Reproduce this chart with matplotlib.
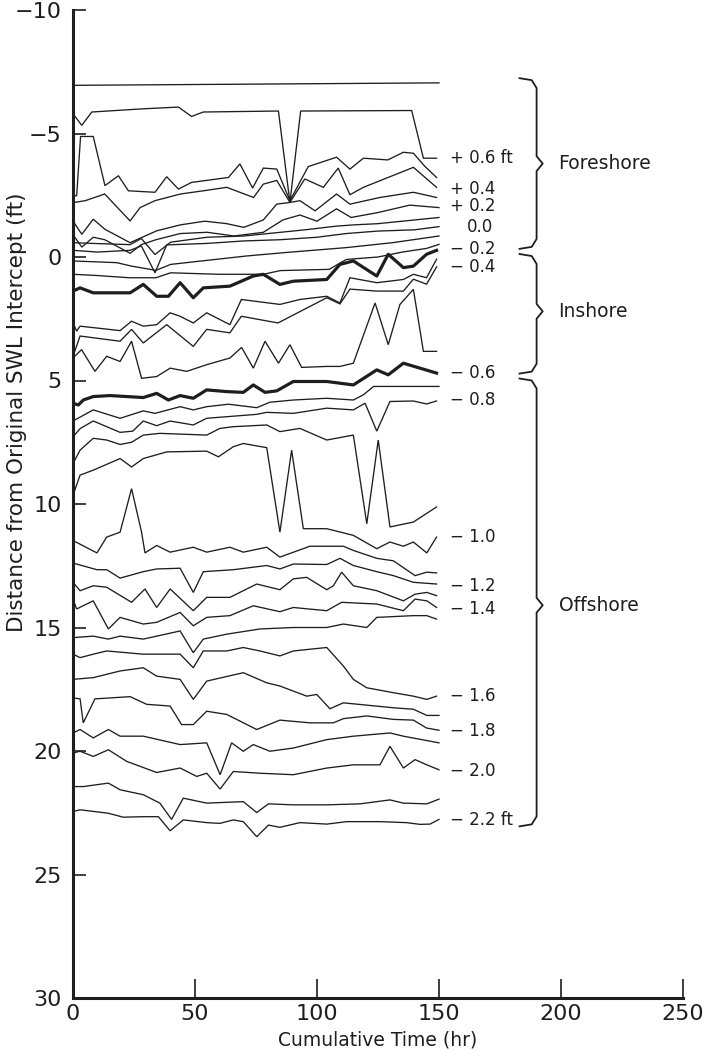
import matplotlib
matplotlib.use("Agg")
import matplotlib.pyplot as plt

# Profile traces: (cumulative time hr, distance ft)
# Foreshore
L1 = [(0, -6.95), (150, -7.05)]
L2 = [(0, -5.8), (3.6, -5.33), (7.7, -5.87), (28.8, -6.0), (43.2, -6.07), (48.6, -5.69),
      (53.4, -5.87), (84.2, -5.91), (88.9, -2.21), (93.3, -5.91), (138.8, -5.93),
      (143.6, -4.0), (149, -4.0)]
L3 = [(0, -2.48), (1.5, -2.48), (3.1, -4.88), (8.3, -4.88), (13.1, -2.89), (18.6, -3.29),
      (22.7, -2.68), (33.6, -2.62), (38.4, -3.25), (43.2, -2.75), (48.6, -3.02), (63.7, -3.22),
      (68.4, -3.77), (73.6, -2.79), (78, -3.6), (83.5, -3.56), (88.9, -2.28), (96.4, -3.66),
      (108, -4.04), (113.5, -3.56), (119, -4.0), (129, -3.93), (135.4, -4.24), (139.5, -4.2),
      (144.3, -3.66), (149, -3.22)]
L4 = [(0, -2.2), (5, -2.28), (13, -2.55), (23.4, -1.46), (27.5, -2.0), (33.6, -2.28),
      (44, -2.55), (53.4, -2.68), (63, -2.82), (74, -2.41), (78, -2.95), (83.5, -3.1),
      (88.9, -2.21), (95, -3.16), (102.6, -2.82), (108.7, -3.6), (113.5, -2.52), (119, -2.82),
      (139.5, -3.63), (149, -2.82)]
L5 = [(0, -1.46), (3.6, -0.92), (8.3, -1.53), (13.1, -1.12), (23.4, -0.58), (34.3, -1.06),
      (44, -1.3), (54, -1.45), (63, -1.35), (70, -1.2), (78, -1.5), (83.5, -2.14), (89, -2.21),
      (93, -2.28), (99.2, -1.87), (108, -2.55), (113.5, -2.14), (125.8, -2.41), (139.5, -2.62),
      (149, -2.41)]
L6 = [(0, -0.9), (3.6, -0.4), (8.3, -0.8), (13, -0.7), (23.4, -0.15), (28, -0.5), (34, -0.7),
      (44, -0.95), (55, -1.0), (66, -0.85), (78, -1.0), (86, -1.5), (93, -1.7), (100, -1.45),
      (108, -1.95), (114, -1.6), (125, -1.8), (138, -2.1), (150, -2.0)]
L7 = [(0, -0.58), (8, -0.55), (23.4, -0.5), (28, -0.75), (33.6, -0.1), (40, -0.6), (55, -0.8),
      (70, -0.85), (85, -1.0), (95, -1.1), (108, -1.25), (115, -1.3), (125, -1.35), (135, -1.45),
      (150, -1.6)]
L8 = [(0, -0.27), (10, -0.2), (23.4, -0.27), (28, -0.45), (33.6, 0.64), (38.4, -0.49),
      (55, -0.55), (70, -0.65), (85, -0.7), (100, -0.8), (112, -0.95), (125, -1.05), (140, -1.1),
      (150, -1.23)]
L9 = [(0, 0.16), (18, 0.23), (24, 0.37), (34, 0.54), (40, 0.3), (71, -0.04), (87, -0.18),
      (112, -0.38), (131, -0.58), (150, -0.85)]
L10 = [(0, 0.7), (10, 0.75), (23, 0.84), (34, 0.84), (40, 0.64), (60, 0.7), (78, 0.7),
       (85, 0.55), (105, 0.5), (112, 0.1), (125, 0.0), (135, -0.2), (145, -0.35), (150, -0.51)]

# Inshore
T1 = [(0, 1.38), (2.9, 1.25), (8.3, 1.45), (23.4, 1.45), (28.8, 1.11), (34.3, 1.59), (39.1, 1.59),
      (43.9, 1.04), (49.3, 1.65), (53.4, 1.25), (64.3, 1.18), (73.9, 0.77), (78, 0.7), (84.8, 1.11),
      (90.3, 0.98), (104, 0.91), (109.4, 0.3), (114.9, 0.16), (124.5, 0.77), (129.2, -0.11),
      (135.4, 0.43), (139.5, 0.37), (144.9, -0.11), (149, -0.27)]
E1 = [(0, 2.67), (1.5, 3.0), (2.9, 2.8), (19.3, 2.98), (24, 2.6), (28.8, 2.8), (34.3, 2.74),
      (39.8, 2.26), (43.9, 2.4), (49.3, 2.67), (54.8, 2.26), (64.3, 2.74), (69, 1.72), (84.8, 1.92),
      (93, 1.72), (104, 1.59), (109.4, 1.86), (113.5, 0.84), (124.5, 1.04), (135.4, 0.91),
      (139.5, 0.7), (144.9, 0.84), (149, 0.09)]
F1 = [(0, 4.02), (2.9, 3.2), (19.3, 3.41), (24, 2.93), (28.8, 3.48), (38.4, 2.74), (49.3, 3.62),
      (54.8, 2.93), (64.3, 3.07), (69, 2.4), (84, 2.67), (104, 1.65), (109.4, 1.9), (113.5, 1.3),
      (124.5, 1.38), (135.4, 1.38), (139.5, 0.9), (144.9, 1.1), (149, 0.4)]
G1 = [(0, 4.09), (3.5, 3.75), (9, 4.63), (13.8, 4.02), (19.3, 4.23), (24, 3.41), (28.1, 4.91),
      (34.3, 4.84), (39.8, 4.5), (46.6, 4.63), (54.8, 4.36), (64.3, 4.09), (69.1, 3.66),
      (73.9, 4.5), (78.7, 3.41), (84.2, 4.3), (88.9, 3.55), (93.7, 4.47), (104, 4.43),
      (109.4, 4.43), (114.9, 4.3), (123.8, 1.86), (129.2, 3.55), (134, 1.92), (139.5, 1.31),
      (143.6, 3.82), (149, 3.82)]
T2 = [(0, 5.92), (2.2, 5.99), (4.2, 5.79), (8.3, 5.65), (15.2, 5.61), (28.8, 5.69), (34.3, 5.52),
      (39.1, 5.79), (43.9, 5.61), (49.3, 5.72), (54.8, 5.38), (63, 5.45), (69.8, 5.48),
      (73.9, 5.18), (78.7, 5.48), (83.5, 5.42), (90.3, 5.04), (98.5, 5.04), (104, 5.04),
      (114.9, 5.18), (124.5, 4.57), (129.2, 4.77), (135.4, 4.3), (142.2, 4.5), (149, 4.7)]

# Offshore
P1 = [(0, 6.64), (8.3, 6.19), (19.3, 6.53), (28.8, 6.23), (33.6, 6.33), (43.9, 6.06), (49.3, 6.19),
      (54.8, 6.06), (63.7, 5.96), (75.3, 6.1), (80.7, 5.88), (90.3, 5.79), (104, 5.72),
      (114.9, 5.79), (119, 5.58), (123.2, 5.24), (150, 5.24)]
P2 = [(0, 7.28), (3, 6.94), (8.3, 6.64), (19.3, 7.1), (24.5, 7.05), (28.8, 6.64), (34.3, 6.83),
      (39.8, 6.64), (49.3, 6.8), (54.8, 6.53), (75.3, 6.37), (79.4, 6.29), (90.3, 6.33), (104, 6.12),
      (114.9, 6.19), (119.7, 5.92), (124.5, 7.05), (129.9, 5.85), (139.5, 5.83), (144.9, 5.95),
      (149, 5.83)]
P3 = [(0, 8.36), (2.9, 7.82), (8.3, 7.34), (13.8, 7.41), (19.3, 7.59), (24, 7.5), (28.8, 7.21),
      (35.6, 7.14), (54.8, 7.21), (60.2, 6.94), (65.7, 6.87), (79.4, 6.8), (84.8, 7.07), (93, 6.94),
      (104, 7.41), (114.9, 7.21), (120.4, 10.8), (125.1, 7.41), (129.9, 10.93), (139.5, 10.73),
      (149, 10.12)]
P4 = [(0, 9.65), (2.9, 8.83), (8.3, 8.63), (19.3, 8.16), (24, 8.5), (28.8, 8.16), (38.4, 7.89),
      (54.8, 7.86), (59.6, 8.09), (65.7, 7.68), (69.8, 7.55), (79.4, 7.72), (84.8, 11.14),
      (89.6, 7.82), (94.4, 11.0), (104, 11.0), (114.9, 11.27), (124.5, 11.81), (129.9, 11.54),
      (135.4, 11.71), (139.5, 11.54), (145, 11.98), (149, 11.34)]
M1 = [(0, 11.48), (9.8, 11.98), (13.8, 11.34), (19.3, 11.14), (24, 9.38), (28.1, 11.14),
      (29.5, 11.98), (34.3, 11.68), (39.8, 11.95), (49.3, 11.75), (54.8, 11.95), (64.3, 11.75),
      (69.8, 11.95), (79.4, 11.75), (84.8, 12.15), (97.1, 11.71), (110.8, 11.71), (114.9, 11.88),
      (124.5, 12.2), (131.3, 12.3), (140.2, 12.9), (145, 12.76), (149, 12.79)]
M2 = [(0, 12.39), (9.8, 12.66), (13.8, 12.66), (19.3, 13.0), (28.8, 12.74), (34.3, 12.63),
      (43.9, 12.6), (49.3, 13.58), (53.4, 12.74), (65.7, 12.66), (79.4, 12.49), (84.8, 12.63),
      (90.3, 12.43), (104, 12.45), (109.4, 12.2), (114.9, 12.49), (124.5, 12.74), (131.3, 12.9),
      (139.5, 13.17), (149, 13.24)]
M3 = [(0, 13.17), (2.9, 13.51), (8.3, 13.31), (13.8, 13.37), (24, 13.98), (29.5, 13.44),
      (34.3, 14.19), (39.8, 13.44), (49.3, 14.32), (54.8, 13.78), (64.3, 13.78), (75.3, 13.24),
      (84.8, 13.47), (90.3, 13.03), (95.8, 12.97), (104, 13.47), (106.7, 13.31), (110.1, 12.76),
      (114.9, 13.31), (124.5, 13.51), (135.4, 13.92), (140.2, 13.65), (145, 13.58), (149, 13.71)]
M4 = [(0, 13.85), (1.5, 14.25), (8.3, 13.92), (14.5, 15.06), (19.3, 14.59), (28.8, 14.86),
      (34.3, 14.79), (43.9, 14.39), (49.3, 14.93), (54.8, 14.59), (64.3, 14.52), (73.9, 14.12),
      (84.8, 14.36), (90.3, 14.19), (104, 14.32), (110.1, 13.98), (124.5, 14.05), (135.4, 14.32),
      (140.2, 13.85), (145, 13.92), (149, 14.19)]
M5 = [(0, 15.41), (8.3, 15.35), (14.5, 15.47), (19.3, 15.35), (28.8, 15.47), (34.3, 15.35),
      (43.9, 15.14), (49.3, 16.02), (53.4, 15.47), (63, 15.27), (76.6, 15.06), (90.3, 15.0),
      (104, 15.0), (110.8, 14.86), (120.4, 15.0), (124.5, 14.59), (139.5, 14.52), (145, 14.52),
      (149, 14.66)]
M6 = [(0, 16.08), (2.9, 16.22), (8.3, 16.08), (13.8, 15.95), (28.8, 16.08), (43.9, 16.08),
      (49.3, 16.63), (53.4, 15.95), (63, 15.95), (69.8, 15.81), (76.6, 15.95), (84.8, 16.15),
      (90.3, 15.95), (97.1, 15.88), (104, 15.81), (110.8, 16.56), (114.9, 17.1), (120.4, 17.44),
      (131.3, 17.64), (139.5, 17.78), (145, 17.91), (149, 17.78)]
M7 = [(0, 17.1), (8.3, 17.03), (19.3, 16.76), (28.8, 16.63), (34.3, 16.97), (43.9, 17.1),
      (49.3, 17.91), (54.8, 17.17), (69.8, 16.83), (79.4, 17.24), (84.8, 17.37), (95.8, 17.78),
      (99.9, 17.71), (105.3, 18.29), (110.8, 18.05), (131.3, 18.25), (139.5, 18.31), (145, 18.56),
      (150, 18.56)]
M8 = [(0, 17.85), (2.9, 17.89), (4.2, 18.86), (9, 17.89), (23.4, 17.8), (30.2, 18.11),
      (39.8, 18.18), (44.5, 18.93), (49.3, 18.93), (54.8, 18.39), (63, 18.52), (75.3, 19.13),
      (84.8, 18.75), (97.1, 18.86), (106.7, 18.86), (110.8, 18.69), (120.4, 18.58), (131.3, 18.72),
      (139.5, 18.75), (144.9, 19.07), (150, 19.16)]
M9 = [(0, 19.27), (2.9, 19.13), (8.3, 19.47), (14.5, 19.13), (19.3, 19.4), (28.8, 19.4),
      (43.9, 19.74), (54.8, 19.67), (60.3, 20.96), (65, 19.67), (69.8, 20.01), (73.9, 19.74),
      (80.7, 20.01), (90.3, 19.88), (104, 19.54), (114.9, 19.4), (129.9, 19.27), (135.4, 19.4),
      (150, 19.67)]
M10 = [(0, 20.08), (2.9, 20.01), (8.3, 20.22), (14.5, 19.95), (22, 20.42), (34.3, 20.87),
       (43.9, 20.69), (50.7, 21.03), (54.8, 20.9), (60.3, 21.54), (65.7, 20.83), (76.6, 20.9),
       (90.3, 20.96), (104, 20.69), (114.9, 20.56), (125.8, 20.56), (129.9, 19.81), (135.4, 20.69),
       (140.2, 20.35), (145, 20.56), (150, 20.76)]
M11 = [(0, 21.44), (4.2, 21.44), (14.5, 21.3), (19.3, 21.57), (28.8, 21.77), (35.6, 22.11),
       (40.4, 22.77), (45.2, 21.91), (54.8, 22.11), (69.8, 22.05), (75.3, 22.49), (80.1, 22.14),
       (90.3, 22.18), (104, 22.18), (117.6, 22.14), (129.9, 21.98), (135.4, 22.11), (145, 22.14),
       (150, 21.95)]
M12 = [(0, 22.45), (2.9, 22.38), (14.5, 22.52), (20.6, 22.68), (28.8, 22.66), (35, 22.66),
       (39.8, 23.23), (45.2, 22.79), (54.8, 22.9), (60.2, 22.93), (65.7, 22.79), (69.8, 22.86),
       (75.3, 23.47), (80.1, 23.0), (84.8, 23.09), (93, 22.9), (104, 22.96), (112.2, 22.86),
       (125.8, 22.86), (136.7, 22.9), (142.2, 22.97), (146.3, 22.96), (150, 22.77)]

thin_lines = [L1, L2, L3, L4, L5, L6, L7, L8, L9, L10, E1, F1, G1,
              P1, P2, P3, P4, M1, M2, M3, M4, M5, M6, M7, M8, M9, M10, M11, M12]
thick_lines = [T1, T2]

# elevation contour labels at the right end of the traces
contour_text = ["+ 0.6 ft", "+ 0.4", "+ 0.2", "0.0", "\u2212 0.2", "\u2212 0.4", "\u2212 0.6",
                "\u2212 0.8", "\u2212 1.0", "\u2212 1.2", "\u2212 1.4", "\u2212 1.6", "\u2212 1.8",
                "\u2212 2.0", "\u2212 2.2 ft"]
contour_pos = [-4.0, -2.75, -2.07, -1.2, -0.33, 0.4, 4.7, 5.8, 11.34, 13.3, 14.27, 17.77,
               19.2, 20.8, 22.8]

zone_names = ["Foreshore", "Inshore", "Offshore"]
zone_top = [-7.24, -0.12, 4.92]
zone_bottom = [-0.33, 4.72, 23.05]
zone_mid = [-3.78, 2.2, 14.1]

INK = "#1e1e1e"


def brace(ax, top, bottom, mid):
    '''Right-pointing curly brace drawn as a polyline at about t = 190.'''
    x0, x1, x2 = 183.0, 190.0, 192.5
    xs = [x0, x1 - 2.0, x1, x1, x2, x1, x1, x1 - 2.0, x0]
    ys = [top, top + 0.08, top + 0.4, mid - 0.3, mid, mid + 0.3, bottom - 0.4, bottom - 0.08, bottom]
    ax.plot(xs, ys, color=INK, lw=1.3, solid_joinstyle="round", clip_on=False)


def main():
    fig = plt.figure(figsize=(7.14, 10.51), dpi=100)
    ax = fig.add_axes([73 / 714, 1 - 998 / 1051, (683 - 73) / 714, (998 - 10) / 1051])

    for pts in thin_lines:
        t, v = zip(*pts)
        ax.plot(t, v, color=INK, lw=0.95, solid_joinstyle="miter")
    for pts in thick_lines:
        t, v = zip(*pts)
        ax.plot(t, v, color=INK, lw=2.3)

    for txt, v in zip(contour_text, contour_pos):
        x = 161.5 if txt == "0.0" else 154.5
        ax.text(x, v, txt, fontsize=12, color=INK, va="center", ha="left")

    for name, top, bot, mid in zip(zone_names, zone_top, zone_bottom, zone_mid):
        brace(ax, top, bot, mid)
        ax.text(199, mid, name, fontsize=13.5, color=INK, va="center", ha="left")

    ax.set_xlim(0, 250)
    ax.set_ylim(30, -10)
    ax.set_xticks(range(0, 251, 50))
    ax.set_yticks(range(-10, 31, 5))
    for side in ["top", "right"]:
        ax.spines[side].set_visible(False)
    for side in ["left", "bottom"]:
        ax.spines[side].set_linewidth(2.2)
        ax.spines[side].set_color(INK)
    ax.tick_params(axis="x", direction="in", length=14, width=1.2, labelsize=16, pad=4, colors=INK)
    ax.tick_params(axis="y", direction="in", length=9, width=1.2, labelsize=16, pad=8, colors=INK)

    ax.set_xlabel("Cumulative Time (hr)", fontsize=13.5, labelpad=5, color=INK)
    fig.text(17 / 714, 1 - 412 / 1051, "Distance from Original SWL Intercept (ft)",
             rotation=90, ha="center", va="center", fontsize=15.5, color=INK)

    fig.savefig("out.png", dpi=100)


if __name__ == "__main__":
    main()
